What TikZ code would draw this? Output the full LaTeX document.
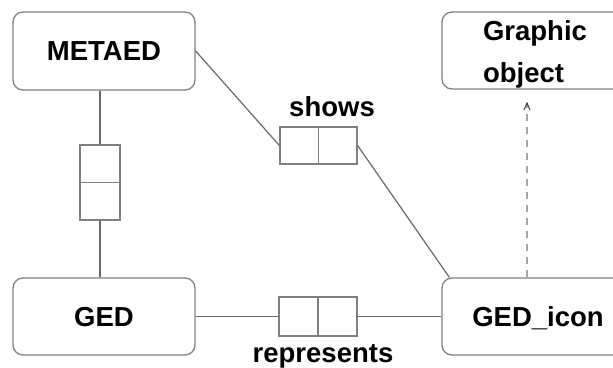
\documentclass[tikz,border=0pt]{standalone}
\usepackage{fontspec}
\setmainfont{Liberation Sans}
\usetikzlibrary{arrows.meta}
\definecolor{boxline}{RGB}{128,128,128}
\definecolor{connline}{RGB}{105,105,105}
\definecolor{dashline}{RGB}{165,165,165}
\begin{document}
\begin{tikzpicture}[x=1pt,y=-1pt,
  entity/.style={draw=boxline, line width=1.3pt, rounded corners=10pt,
    inner sep=0pt, text height=19.7pt, text depth=0pt,
    font=\fontsize{27.5}{42}\selectfont\bfseries},
  relbox/.style={draw=boxline, line width=1.2pt, inner sep=0pt},
  conn/.style={draw=connline, line width=1.2pt},
  lbl/.style={inner sep=0pt, font=\fontsize{27.5}{42}\selectfont\bfseries}]
\useasboundingbox (0,0) rectangle (613,367);
\clip (0,0) rectangle (613,367);

% entities
\node[entity, minimum width=182pt, minimum height=78pt] (metaed) at (104,51) {METAED};
\node[entity, minimum width=186pt, minimum height=77pt, align=left,
  text height=63pt] (graphic) at (535,50.5) {Graphic\\object};
\node[entity, minimum width=182pt, minimum height=77pt] (ged) at (104,316.5) {GED};
\node[entity, minimum width=192pt, minimum height=77pt] (gedicon) at (538,316.5) {GED\_icon};

% relationship boxes
\node[relbox, minimum width=40pt, minimum height=75pt] (vrel) at (100,182.5) {};
\draw[boxline, line width=1.2pt] (vrel.west) -- (vrel.east);
\node[relbox, minimum width=77pt, minimum height=37pt] (shows) at (318.5,145.5) {};
\draw[boxline, line width=1.2pt] (shows.north) -- (shows.south);
\node[relbox, minimum width=78pt, minimum height=39pt] (repr) at (318,316.5) {};
\draw[boxline, line width=1.2pt] (repr.north) -- (repr.south);

% relationship names
\node[lbl, anchor=base] (showslbl) at (332,116) {shows};
\node[lbl, anchor=base] (reprlbl) at (323,362) {represents};

% connectors
\draw[conn] (vrel.north) -- (vrel.north |- metaed.south);
\draw[conn] (vrel.south) -- (vrel.south |- ged.north);
\draw[conn] (metaed.east) -- (shows.west);
\draw[conn] (shows.east) -- ([xshift=8pt]gedicon.north west);
\draw[conn] (ged.east) -- (repr.west);
\draw[conn] (repr.east) -- (gedicon.west);
\draw[dashline, line width=1.2pt, dash pattern=on 7pt off 6pt, shorten >=12pt,
  -{Straight Barb[length=7pt,width=6pt,line width=1pt,color=black!75]}]
  ([xshift=-11pt]gedicon.north) -- ([xshift=-11pt]gedicon.north |- graphic.south);
\end{tikzpicture}
\end{document}
